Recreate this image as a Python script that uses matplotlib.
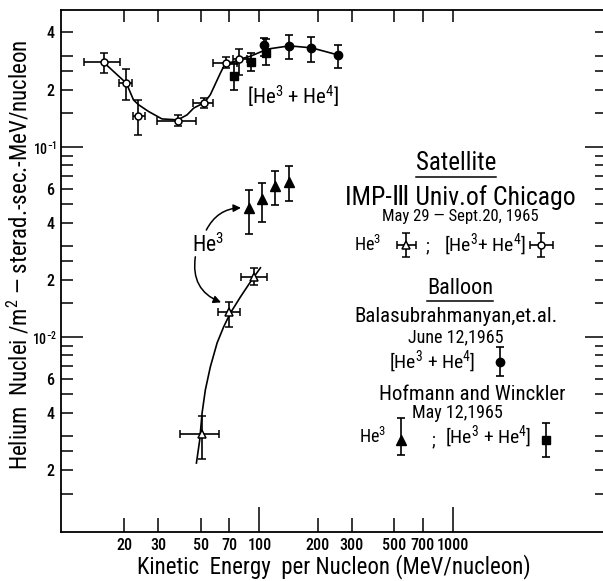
import numpy as np
import matplotlib
matplotlib.use('Agg')
import matplotlib.pyplot as plt
from matplotlib.ticker import FixedLocator, FixedFormatter
from matplotlib.lines import Line2D

plt.rcParams['font.family'] = ['Roboto Condensed', 'DejaVu Sans']
plt.rcParams['mathtext.fontset'] = 'custom'
plt.rcParams['mathtext.rm'] = 'Roboto Condensed'
plt.rcParams['mathtext.it'] = 'Roboto Condensed'
plt.rcParams['mathtext.default'] = 'regular'

# energies in MeV/nucleon, flux in nuclei / m2-sterad-sec-MeV/nucleon

# satellite IMP-III, He3+He4 (open circles)
sat_all_e = [15.6, 20.5, 23.6, 38.0, 51.9, 67.5, 78.8]
sat_all_elo = [12.4, 18.8, 22.3, 29.6, 45.5, 57.7, 73.0]
sat_all_ehi = [18.9, 22.0, 25.7, 47.2, 57.7, 77.0, 86.7]
sat_all_j = [0.279, 0.216, 0.146, 0.137, 0.171, 0.277, 0.290]
sat_all_jlo = [0.245, 0.177, 0.116, 0.128, 0.160, 0.260, 0.240]
sat_all_jhi = [0.310, 0.257, 0.177, 0.147, 0.180, 0.297, 0.327]

# satellite IMP-III, He3 (open triangles)
sat_he3_e = [50.5, 70.0, 93.4]
sat_he3_elo = [39.0, 61.3, 80.7]
sat_he3_ehi = [62.0, 79.7, 110.0]
sat_he3_j = [3.08e-3, 0.01355, 0.0207]
sat_he3_jlo = [2.28e-3, 0.0113, 0.0188]
sat_he3_jhi = [3.84e-3, 0.0153, 0.0231]

# balloon, Hofmann and Winckler, He3 (filled triangles)
hw_he3_e = [88.8, 103.6, 121.0, 143.0]
hw_he3_j = [0.0478, 0.0532, 0.0624, 0.0655]
hw_he3_jlo = [0.0348, 0.0403, 0.0495, 0.0520]
hw_he3_jhi = [0.0594, 0.0647, 0.0748, 0.0794]

# balloon, Hofmann and Winckler, He3+He4 (filled squares)
hw_all_e = [74.0, 90.0, 108.0]
hw_all_j = [0.236, 0.280, 0.310]
hw_all_jlo = [0.200, 0.251, 0.270]
hw_all_jhi = [0.273, 0.313, 0.370]

# balloon, Balasubrahmanyan et al., He3+He4 (filled circles)
bal_all_e = [105.0, 143.0, 186.0, 254.0]
bal_all_j = [0.345, 0.340, 0.332, 0.305]
bal_all_jlo = [0.300, 0.290, 0.280, 0.260]
bal_all_jhi = [0.375, 0.390, 0.380, 0.344]

# hand drawn curves
curve_all_e = [15.6, 20.5, 22.3, 23.7, 26.7, 31.3, 37.8, 42.2, 45.7, 51.9, 55.7, 62.8, 66.7,
               73.6, 79.8, 90.0, 110.0, 143.0, 186.0, 254.0]
curve_all_j = [0.279, 0.216, 0.1766, 0.1665, 0.1535, 0.1403, 0.1387, 0.1473, 0.160, 0.171,
               0.188, 0.2445, 0.276, 0.280, 0.290, 0.300, 0.327, 0.340, 0.332, 0.305]
curve_he3_e = [47.2, 49.1, 50.5, 52.5, 55.7, 60.4, 65.3, 70.8, 79.8, 89.8, 101.2]
curve_he3_j = [2.17e-3, 2.87e-3, 3.98e-3, 5.26e-3, 6.95e-3, 9.3e-3, 0.0113, 0.01337,
               0.01625, 0.01946, 0.0231]

# axes
x_lim = [9.4, 6000]
y_lim = [9.41e-4, 0.525]
x_major = [100, 1000]
x_major_labels = ['100', '1000']
x_minor = [20, 30, 50, 70, 200, 300, 500, 700]
x_minor_labels = ['20', '30', '50', '70', '200', '300', '500', '700']
y_major = [1e-2, 1e-1]
y_major_labels = ['$10^{-2}$', '$10^{-1}$']
y_decades = [1e-3, 1e-2, 1e-1]
y_minor_mant = [1.5, 2, 2.5, 3, 4, 5, 6, 7, 8, 9]
y_label_mant = [2, 4, 6]

fig = plt.figure(figsize=(6.03, 5.81), dpi=100)
ax = fig.add_axes([61/603, 1-532/581, 542/603, 522/581])
ax.set_xscale('log')
ax.set_yscale('log')
ax.set_xlim(x_lim)
ax.set_ylim(y_lim)

for s in ['left', 'bottom', 'top']:
    ax.spines[s].set_linewidth(1.3)
ax.spines['right'].set_visible(False)

ax.xaxis.set_major_locator(FixedLocator(x_major))
ax.xaxis.set_major_formatter(FixedFormatter(x_major_labels))
ax.xaxis.set_minor_locator(FixedLocator(x_minor))
ax.xaxis.set_minor_formatter(FixedFormatter(x_minor_labels))

y_minor = []
y_minor_labels = []
for d in y_decades:
    for m in y_minor_mant:
        v = m * d
        if y_lim[0] < v < y_lim[1] * 0.9:
            y_minor.append(v)
            y_minor_labels.append(('%g' % m) if m in y_label_mant else '')
ax.yaxis.set_major_locator(FixedLocator(y_major))
ax.yaxis.set_major_formatter(FixedFormatter(y_major_labels))
ax.yaxis.set_minor_locator(FixedLocator(y_minor))
ax.yaxis.set_minor_formatter(FixedFormatter(y_minor_labels))

ax.tick_params(axis='both', which='both', direction='in', width=1.1, top=True, right=True)
ax.tick_params(axis='x', which='major', length=18, labelsize=11.5, pad=4)
ax.tick_params(axis='x', which='minor', length=10, labelsize=11.5, pad=4)
ax.tick_params(axis='y', which='major', length=16, labelsize=10, pad=3)
ax.tick_params(axis='y', which='minor', length=8.5, labelsize=11.5, pad=5)
for t in ax.xaxis.get_major_ticks():
    t.tick2line.set_markersize(8.5)
for t in ax.xaxis.get_minor_ticks():
    t.tick2line.set_markersize(8.5)
for t in ax.yaxis.get_major_ticks():
    t.tick2line.set_markersize(13)
for t in ax.yaxis.get_minor_ticks():
    t.tick2line.set_markersize(6)
for lab in ax.get_xticklabels(which='both') + ax.get_yticklabels(which='both'):
    lab.set_fontweight('medium')

lw = 1.2
ax.plot(curve_all_e, curve_all_j, color='k', lw=lw, zorder=2)
ax.plot(curve_he3_e, curve_he3_j, color='k', lw=lw, zorder=2)

def asym(v, lo, hi):
    v = np.array(v)
    return [v - np.array(lo), np.array(hi) - v]

eb = dict(ecolor='k', elinewidth=1.2, capsize=3, capthick=1.2, ls='none', zorder=3)

ax.errorbar(sat_all_e, sat_all_j, xerr=asym(sat_all_e, sat_all_elo, sat_all_ehi),
            yerr=asym(sat_all_j, sat_all_jlo, sat_all_jhi), marker='o', ms=5,
            mfc='white', mec='k', mew=1.1, **eb)
ax.errorbar(sat_he3_e, sat_he3_j, xerr=asym(sat_he3_e, sat_he3_elo, sat_he3_ehi),
            yerr=asym(sat_he3_j, sat_he3_jlo, sat_he3_jhi), marker='^', ms=6,
            mfc='white', mec='k', mew=1.1, **eb)
ax.errorbar(hw_he3_e, hw_he3_j, yerr=asym(hw_he3_j, hw_he3_jlo, hw_he3_jhi),
            marker='^', ms=7, mfc='k', mec='k', **eb)
ax.errorbar(hw_all_e, hw_all_j, yerr=asym(hw_all_j, hw_all_jlo, hw_all_jhi),
            marker='s', ms=5.5, mfc='k', mec='k', **eb)
ax.errorbar(bal_all_e, bal_all_j, yerr=asym(bal_all_j, bal_all_jlo, bal_all_jhi),
            marker='o', ms=6, mfc='k', mec='k', **eb)

# He3 label with arrows
ax.text(54.5, 0.0305, 'He$^3$', fontsize=15.5, ha='center', va='center')
ap = dict(arrowstyle='-|>', color='k', lw=1.1, mutation_scale=11, shrinkA=0, shrinkB=1)
ax.annotate('', xy=(81.6, 0.0478), xytext=(53.1, 0.0365),
            arrowprops=dict(connectionstyle='arc3,rad=-0.3', **ap))
ax.annotate('', xy=(64.3, 0.0151), xytext=(46.6, 0.0264),
            arrowprops=dict(connectionstyle='arc3,rad=0.4', **ap))

ax.text(150, 0.183, '[He$^3$ + He$^4$]', fontsize=15, ha='center', va='center')

# legend block, positions in axes fraction
def fx(px):
    return (px - 61) / 542.0

def fy(py):
    return (532 - py) / 522.0

T = ax.transAxes
under = []
t = ax.text(fx(456), fy(163), 'Satellite', fontsize=18, ha='center', va='center', transform=T)
under.append(t)
ax.text(fx(460), fy(197), 'IMP-Ⅲ Univ.of Chicago', fontsize=18.5, ha='center', va='center', transform=T)
ax.text(fx(460), fy(216), 'May 29 — Sept.20, 1965', fontsize=12, ha='center', va='center', transform=T)
ax.text(fx(368), fy(245), 'He$^3$', fontsize=13, ha='center', va='center', transform=T)
ax.text(fx(427), fy(246), ';', fontsize=13, ha='center', va='center', transform=T)
ax.text(fx(485), fy(245), '[He$^3$+ He$^4$]', fontsize=14, ha='center', va='center', transform=T)
t = ax.text(fx(460), fy(288), 'Balloon', fontsize=16, ha='center', va='center', transform=T)
under.append(t)
ax.text(fx(456), fy(317), 'Balasubrahmanyan,et.al.', fontsize=15, ha='center', va='center', transform=T)
ax.text(fx(456), fy(337), 'June 12,1965', fontsize=13, ha='center', va='center', transform=T)
ax.text(fx(432), fy(362), '[He$^3$ + He$^4$]', fontsize=14, ha='center', va='center', transform=T)
ax.text(fx(472), fy(395), 'Hofmann and Winckler', fontsize=15, ha='center', va='center', transform=T)
ax.text(fx(457), fy(413), 'May 12,1965', fontsize=13, ha='center', va='center', transform=T)
ax.text(fx(373), fy(437), 'He$^3$', fontsize=13, ha='center', va='center', transform=T)
ax.text(fx(433), fy(440), ';', fontsize=13, ha='center', va='center', transform=T)
ax.text(fx(488), fy(437), '[He$^3$ + He$^4$]', fontsize=14, ha='center', va='center', transform=T)

# legend keys
key = dict(transform=T, ecolor='k', elinewidth=1.2, capsize=3, capthick=1.2, ls='none', clip_on=False)
ax.errorbar([fx(406)], [fy(245)], xerr=[[fx(406) - fx(397)], [fx(416) - fx(406)]],
            yerr=[[fy(233) - fy(245)], [fy(245) - fy(257)]], marker='^', ms=6, mfc='white', mec='k', mew=1.1, **key)
ax.errorbar([fx(541)], [fy(245)], xerr=[[fx(541) - fx(530)], [fx(553) - fx(541)]],
            yerr=[[fy(233) - fy(245)], [fy(245) - fy(257)]], marker='o', ms=5, mfc='white', mec='k', mew=1.1, **key)
ax.errorbar([fx(500)], [fy(362)], yerr=[[fy(348) - fy(362)], [fy(362) - fy(377)]],
            marker='o', ms=6, mfc='k', mec='k', **key)
ax.errorbar([fx(401)], [fy(440)], yerr=[[fy(425) - fy(440)], [fy(440) - fy(462)]],
            marker='^', ms=7, mfc='k', mec='k', **key)
ax.errorbar([fx(546)], [fy(440)], yerr=[[fy(423) - fy(440)], [fy(440) - fy(457)]],
            marker='s', ms=5.5, mfc='k', mec='k', **key)

fig.text(19/603, 1-255/581, 'Helium  Nuclei /m$^2$ — sterad.-sec.-MeV/nucleon', rotation=90,
         fontsize=16.5, ha='center', va='center')
fig.text(334/603, 1-567/581, 'Kinetic  Energy  per Nucleon (MeV/nucleon)', fontsize=16.5,
         ha='center', va='center')

fig.canvas.draw()
inv = fig.transFigure.inverted()
for t in under:
    bb = t.get_window_extent()
    (x0, y0), (x1, y1) = inv.transform([[bb.x0, bb.y0], [bb.x1, bb.y0]])
    fig.add_artist(Line2D([x0, x1], [y0 - 0.004, y1 - 0.004], color='k', lw=1.1, transform=fig.transFigure))

fig.savefig('out.png', dpi=100)
